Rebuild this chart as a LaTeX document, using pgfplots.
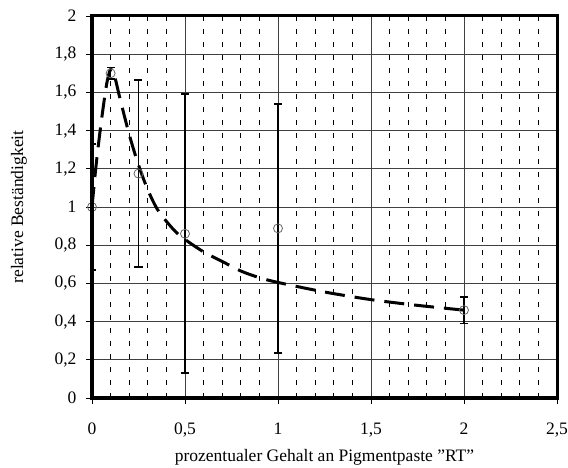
\documentclass[border=0pt]{standalone}
\usepackage{fontspec}
\setmainfont{Liberation Serif}
\usepackage{pgfplots}
\pgfplotsset{compat=1.18}

\begin{document}
\begin{tikzpicture}
\path[use as bounding box] (-92bp,-70bp) rectangle (476bp,398bp);
\begin{axis}[
    at={(0,0)}, anchor=south west,
    scale only axis,
    width=465bp, height=382bp,
    xmin=0, xmax=2.5, ymin=0, ymax=2,
    xtick={0,0.5,1,1.5,2,2.5},
    ytick={0,0.2,0.4,0.6,0.8,1,1.2,1.4,1.6,1.8,2},
    minor x tick num=4,
    tick pos=left,
    tick align=outside,
    major tick length=6bp,
    minor tick length=0bp,
    major tick style={black, line width=0.8bp},
    axis line style={black, line width=3bp},
    xmajorgrids, ymajorgrids, xminorgrids,
    major grid style={black!75, line width=0.8bp},
    minor grid style={black, line width=0.8bp, dash pattern=on 5bp off 8bp},
    font=\fontsize{17.5bp}{20bp}\selectfont,
    tick label style={font=\fontsize{17.5bp}{20bp}\selectfont},
    x tick label style={yshift=-15bp},
    y tick label style={xshift=-6bp},
    /pgf/number format/.cd, use comma, 1000 sep={}, assume math mode=true,
    /pgfplots/.cd,
    xlabel={prozentualer Gehalt an Pigmentpaste \symbol{"22}RT\symbol{"22}},
    ylabel={relative Beständigkeit},
    xlabel style={at={(axis description cs:0.5,-0.1675)}, anchor=base},
    ylabel style={at={(axis description cs:-0.157,0.5)}, anchor=center},
]
% fitted curve
\addplot[black, line width=3bp, dash pattern=on 20bp off 10bp, smooth, tension=0.5] coordinates {
    (0,1.0) (0.02,1.2) (0.04,1.37) (0.06,1.52) (0.08,1.65) (0.1,1.72)
    (0.12,1.69) (0.15,1.57) (0.2,1.38) (0.25,1.22) (0.3,1.09) (0.35,0.99)
    (0.4,0.925) (0.45,0.87) (0.5,0.83) (0.6,0.765) (0.7,0.715) (0.8,0.665)
    (0.9,0.63) (1.0,0.605) (1.25,0.555) (1.5,0.515) (1.75,0.485) (2.0,0.46)
};
% measured values with error bars
\addplot[only marks, mark=o, mark size=4.5bp,
    mark options={black!60, line width=0.8bp},
    error bars/.cd, y dir=both, y explicit,
    error bar style={black, line width=1.8bp},
    error mark options={black, rotate=90, mark size=4bp, line width=1.8bp}]
coordinates {
    (0,1.0) +- (0,0.33)
    (0.1,1.70) +- (0,0.03)
    (0.25,1.175) +- (0,0.49)
    (0.5,0.86) +- (0,0.73)
    (1,0.888) +- (0,0.652)
    (2,0.46) +- (0,0.07)
};
\end{axis}
% heavy frame round the plot area
\draw[black, line width=3bp, line cap=rect] (0bp,0bp) -- (465bp,0bp) -- (465bp,382bp) -- (0bp,382bp) -- cycle;
\end{tikzpicture}
\end{document}
